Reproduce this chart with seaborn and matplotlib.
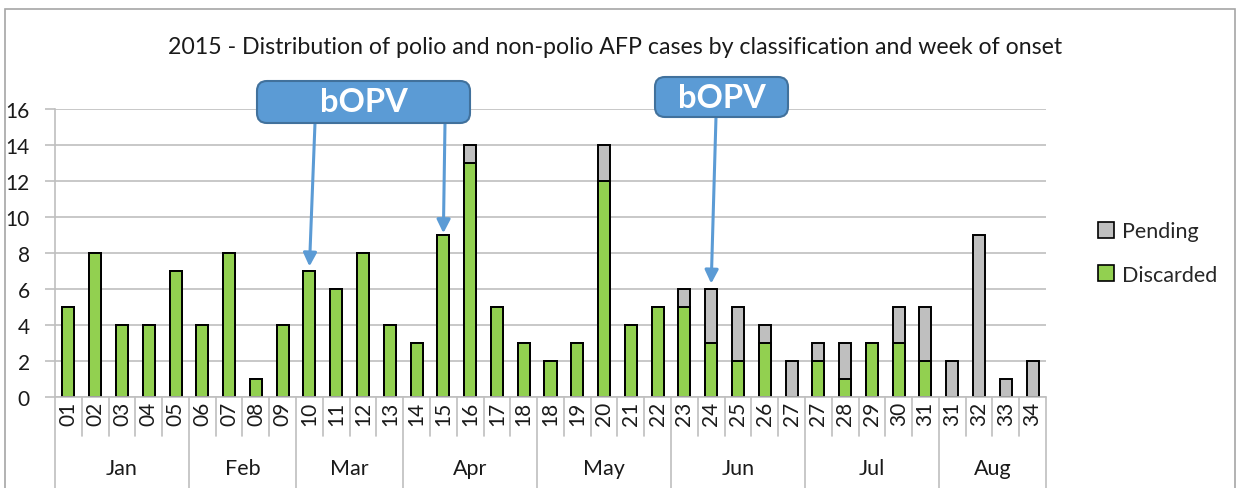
import matplotlib
matplotlib.use("Agg")
import matplotlib.pyplot as plt
from matplotlib.patches import FancyBboxPatch, Rectangle
import seaborn as sns
import pandas as pd

# ---------------- data ----------------
weeks = ["01", "02", "03", "04", "05",
         "06", "07", "08", "09",
         "10", "11", "12", "13",
         "14", "15", "16", "17", "18",
         "18", "19", "20", "21", "22",
         "23", "24", "25", "26", "27",
         "27", "28", "29", "30", "31",
         "31", "32", "33", "34"]
months = ["Jan"] * 5 + ["Feb"] * 4 + ["Mar"] * 4 + ["Apr"] * 5 + ["May"] * 5 + \
         ["Jun"] * 5 + ["Jul"] * 5 + ["Aug"] * 4
discarded = [5, 8, 4, 4, 7,
             4, 8, 1, 4,
             7, 6, 8, 4,
             3, 9, 13, 5, 3,
             2, 3, 12, 4, 5,
             5, 3, 2, 3, 0,
             2, 1, 3, 3, 2,
             0, 0, 0, 0]
pending = [0, 0, 0, 0, 0,
           0, 0, 0, 0,
           0, 0, 0, 0,
           0, 0, 1, 0, 0,
           0, 0, 2, 0, 0,
           1, 3, 3, 1, 2,
           1, 2, 0, 2, 3,
           2, 9, 1, 2]
month_order = ["Jan", "Feb", "Mar", "Apr", "May", "Jun", "Jul", "Aug"]
title = "2015 - Distribution of polio and non-polio AFP cases by classification and week of onset"
yticks = [0, 2, 4, 6, 8, 10, 12, 14, 16]
# (annotated week index, label)
campaigns = [(9, "bOPV"), (14, "bOPV"), (24, "bOPV")]

GREEN = "#92D050"
GREY = "#BFBFBF"
BLUE = "#5B9BD5"
BLUE_EDGE = "#41719C"
TXT = "#1a1a1a"

df = pd.DataFrame({
    "key": [f"{m}-{w}" for m, w in zip(months, weeks)],
    "week": weeks,
    "month": months,
    "Discarded": discarded,
    "Pending": pending,
})
df["Total"] = df["Discarded"] + df["Pending"]

sns.set_theme(style="white")
FONT = ["Lato", "DejaVu Sans"]
plt.rcParams["font.family"] = FONT

W, H = 1240, 489
fig = plt.figure(figsize=(W / 100, H / 100), dpi=100)
ax_l, ax_r, ax_b, ax_t = 55, 1046, 398, 110
ax = fig.add_axes([ax_l / W, (H - ax_b) / H, (ax_r - ax_l) / W, (ax_b - ax_t) / H])

order = list(df["key"])
sns.barplot(data=df, x="key", y="Total", order=order, color=GREY, width=0.45,
            edgecolor="black", linewidth=1.4, ax=ax, zorder=3, saturation=1)
sns.barplot(data=df, x="key", y="Discarded", order=order, color=GREEN, width=0.45,
            edgecolor="black", linewidth=1.4, ax=ax, zorder=4, saturation=1)

n = len(order)
ax.set_xlim(-0.5, n - 0.5)
ax.set_ylim(0, 16)
ax.set_yticks(yticks)
ax.set_yticklabels([str(v) for v in yticks], fontsize=15, color=TXT)
ax.yaxis.grid(True, color="#BFBFBF", linewidth=1.2, zorder=0)
ax.set_axisbelow(True)
for s in ["top", "right", "bottom"]:
    ax.spines[s].set_visible(False)
ax.spines["left"].set_color("#BFBFBF")
ax.spines["left"].set_linewidth(1.2)
ax.tick_params(axis="y", length=7, width=1.2, color="#BFBFBF", pad=11, left=True)
ax.set_xticks(range(n))
ax.set_xticklabels(weeks, rotation=90, fontsize=15, color=TXT)
ax.tick_params(axis="x", length=0, pad=3)
ax.set_xlabel("")
ax.set_ylabel("")

# multi-level category axis lines
tr = ax.get_xaxis_transform()
ax.plot([-0.5, n - 0.5], [0, 0], transform=tr, color="#BFBFBF", lw=1.2, clip_on=False, zorder=5)
bounds = []
pos = 0
month_centers = []
for m in month_order:
    cnt = months.count(m)
    month_centers.append((m, pos - 0.5 + cnt / 2))
    pos += cnt
    bounds.append(pos - 0.5)
for i in range(n + 1):
    x = i - 0.5
    y0 = -0.33 if (x == -0.5 or x in bounds) else -0.135
    ax.plot([x, x], [0, y0], transform=tr, color="#BFBFBF", lw=1.2, clip_on=False)
for m, c in month_centers:
    ax.text(c, -0.245, m, transform=tr, ha="center", va="center", fontsize=15.5, color=TXT)

# title
fig.text(615 / W, 1 - 48 / H, title, ha="center", va="center", fontsize=16.7, color=TXT)

# legend
handles = [Rectangle((0, 0), 1, 1, facecolor=GREY, edgecolor="black", lw=1.2),
           Rectangle((0, 0), 1, 1, facecolor=GREEN, edgecolor="black", lw=1.2)]
fig.legend(handles, ["Pending", "Discarded"], loc="center left",
           bbox_to_anchor=(1098 / W, 1 - 254 / H), frameon=False, fontsize=15.5,
           handlelength=0.75, handleheight=0.75, handletextpad=0.35, labelspacing=1.1,
           borderpad=0, borderaxespad=0)

# campaign boxes (figure pixel coordinates)
boxes = [(257, 82, 470, 124), (655, 78, 788, 118)]
for (x0, y0, x1, y1) in boxes:
    p = FancyBboxPatch((x0 / W, 1 - y1 / H), (x1 - x0) / W, (y1 - y0) / H,
                       boxstyle="round,pad=0,rounding_size=0.008",
                       transform=fig.transFigure, facecolor=BLUE, edgecolor=BLUE_EDGE,
                       lw=1.5, zorder=10, mutation_aspect=W / H)
    fig.patches.append(p)
    fig.text((x0 + x1) / 2 / W, 1 - (y0 + y1) / 2 / H, campaigns[0][1], ha="center",
             va="center", fontsize=23.5, fontweight="bold", color="white", zorder=11)

arrow_starts = [(315, 124), (445, 124), (716, 118)]
tips = [7.25, 9.1, 6.3]
for (idx, _), (sx, sy), ty in zip(campaigns, arrow_starts, tips):
    ax.annotate("", xy=(idx, ty), xycoords="data",
                xytext=(sx / W, 1 - sy / H), textcoords="figure fraction",
                arrowprops=dict(arrowstyle="-|>", color=BLUE, lw=2.2, mutation_scale=20,
                                shrinkA=0, shrinkB=0),
                zorder=9, annotation_clip=False)

# outer chart border
fig.patches.append(Rectangle((5 / W, -0.05), 1230 / W, 1.05 - 10 / H,
                             transform=fig.transFigure, fill=False,
                             edgecolor="#A6A6A6", lw=1.2))

fig.savefig("out.png", dpi=100, facecolor="white")
